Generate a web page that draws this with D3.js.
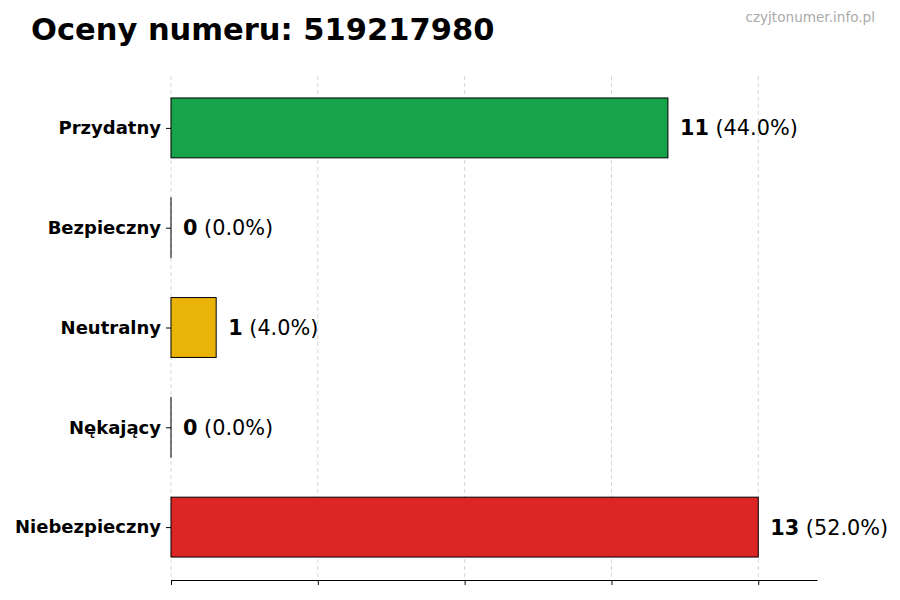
<!DOCTYPE html>
<html>
<head>
<meta charset="utf-8">
<script src="https://cdn.jsdelivr.net/npm/d3@7"></script>
<style>
  body { margin: 0; background: #fff; }
  svg { font-family: "DejaVu Sans", sans-serif; }
</style>
</head>
<body>
<svg id="chart" width="900" height="600"></svg>
<script>
// dane z obrazka
var categories = ["Przydatny", "Bezpieczny", "Neutralny", "Nękający", "Niebezpieczny"]
var counts = [11, 0, 1, 0, 13]
var colors = ["#16a34a", "#9ca3af", "#eab308", "#f97316", "#dc2626"]
var xTicks = [0, 3.25, 6.5, 9.75, 13]
var title = "Oceny numeru: 519217980"
var watermark = "czyjtonumer.info.pl"

var total = d3.sum(counts)
var svg = d3.select("#chart")

var x = d3.scaleLinear().domain([0, d3.max(counts) * 1.1]).range([171, 817])
var y = d3.scaleLinear().domain([-0.52, categories.length - 1 + 0.53]).range([76, 580])
var barH = y(0.3) - y(-0.3)

// siatka
svg.append("g").selectAll("line").data(xTicks).enter()
  .append("line")
  .attr("x1", d => x(d)).attr("x2", d => x(d))
  .attr("y1", y.range()[0]).attr("y2", y.range()[1])
  .attr("stroke", "#cccccc").attr("stroke-width", 0.8)
  .attr("stroke-dasharray", "4,3")

// dolna oś bez etykiet
svg.append("g")
  .attr("transform", "translate(0," + y.range()[1] + ")")
  .call(d3.axisBottom(x).tickValues(xTicks).tickFormat("").tickSize(5).tickSizeOuter(0))
  .call(g => g.select(".domain").attr("stroke", "#000").attr("stroke-width", 1.2))
  .call(g => g.selectAll(".tick line").attr("stroke", "#000"))

// lewa oś: tylko kreski i etykiety
var yAxis = svg.append("g")
  .attr("transform", "translate(" + x(0) + ",0)")
  .call(d3.axisLeft(y).tickValues(d3.range(categories.length)).tickFormat(i => categories[i]).tickSize(5).tickPadding(5))
yAxis.select(".domain").remove()
yAxis.selectAll(".tick line").attr("stroke", "#000")
yAxis.selectAll(".tick text")
  .attr("fill", "#000")
  .style("font-family", "DejaVu Sans")
  .style("font-size", "18px")
  .style("font-weight", "bold")

// słupki (zerowe też mają obrys)
svg.append("g").selectAll("rect").data(counts).enter()
  .append("rect")
  .attr("x", x(0))
  .attr("y", (d, i) => y(i) - barH / 2)
  .attr("width", d => Math.max(x(d) - x(0), 0.01))
  .attr("height", barH)
  .attr("fill", (d, i) => colors[i])
  .attr("stroke", "#000").attr("stroke-width", 1)

// etykiety wartości
var lab = svg.append("g").selectAll("text").data(counts).enter()
  .append("text")
  .attr("x", d => x(d) + 12)
  .attr("y", (d, i) => y(i))
  .attr("dy", "0.36em")
  .style("font-size", "20.8px")
  .attr("fill", "#000")
lab.append("tspan").attr("font-weight", "bold").text(d => d)
lab.append("tspan").text(d => " (" + (d / total * 100).toFixed(1) + "%)")

svg.append("text")
  .attr("x", 31).attr("y", 40)
  .style("font-size", "30.5px").style("font-weight", "bold")
  .text(title)

svg.append("text")
  .attr("x", 875).attr("y", 22)
  .attr("text-anchor", "end")
  .attr("fill", "#aaaaaa")
  .style("font-size", "13.6px")
  .text(watermark)
</script>
</body>
</html>
